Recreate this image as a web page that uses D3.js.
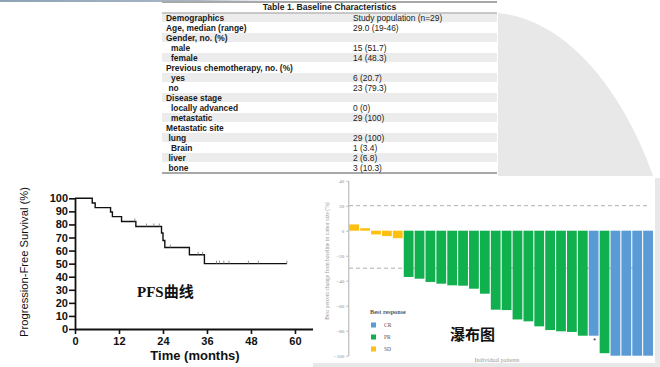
<!DOCTYPE html>
<html><head><meta charset="utf-8">
<script src="https://cdn.jsdelivr.net/npm/d3@7/dist/d3.min.js"></script>
<style>
html,body{margin:0;padding:0;background:#fff;}
svg{display:block;}
</style></head>
<body>
<svg id="c" width="660" height="367"></svg>
<script>
// ---------- DATA ----------
const tableTitle = "Table 1. Baseline Characteristics";
const tableLabels = ["Demographics","Age, median (range)","Gender, no. (%)","male","female","Previous chemotherapy, no. (%)","yes","no","Disease stage","locally advanced","metastatic","Metastatic site","lung","Brain","liver","bone"];
const tableValues = ["Study population (n=29)","29.0 (19-46)","","15 (51.7)","14 (48.3)","","6 (20.7)","23 (79.3)","","0 (0)","29 (100)","","29 (100)","1 (3.4)","2 (6.8)","3 (10.3)"];
const tableIndent = [0,0,0,2,2,0,2,1,0,2,2,0,1,2,1,1];

const kmTimes = [0, 4.7, 5.5, 9.7, 10.2, 12.7, 16.6, 23.6, 24.0, 24.5, 31.2, 35.3, 57.8];
const kmSurv  = [100, 96.4, 92.9, 89.5, 86.0, 82.3, 78.4, 73.5, 67.7, 62.3, 56.8, 50.0, 50.0];
const kmCensor = [16.3, 19.5, 21.5, 23.0, 26.0, 33.6, 34.8, 38.6, 39.4, 40.6, 42.0, 47.3, 50.0, 57.8];
const kmXTicks = [0, 12, 24, 36, 48, 60];
const kmYTicks = [0,10,20,30,40,50,60,70,80,90,100];

const wfValues = [5, 2, -3, -4.3, -6, -37, -38.4, -41, -42.4, -43.7, -44, -46.4, -50.4, -63.2, -63.5, -71, -72.5, -76.5, -79.5, -80.5, -81, -84, -84, -98, -100, -100, -100, -100];
const wfResponse = ["SD","SD","SD","SD","SD","PR","PR","PR","PR","PR","PR","PR","PR","PR","PR","PR","PR","PR","PR","PR","PR","PR","CR","PR","CR","CR","CR","CR"];
const wfStarIndex = [22];
const wfYTicks = [40, 20, 0, -20, -40, -60, -80, -100];
const wfRefLines = [20, -30];
const legendKeys = ["CR","PR","SD"];
const legendColors = ["#5b9bd5","#11b04f","#fdc010"];

// ---------- SETUP ----------
const svg = d3.select("#c");
const defs = svg.append("defs");
const grad = defs.append("linearGradient").attr("id","topg").attr("x1","0").attr("x2","1").attr("y1","0").attr("y2","0");
grad.append("stop").attr("offset","0").attr("stop-color","#8ea1b6");
grad.append("stop").attr("offset","0.6").attr("stop-color","#a9b8c8");
grad.append("stop").attr("offset","1").attr("stop-color","#ffffff").attr("stop-opacity","0");
svg.append("rect").attr("x",0).attr("y",0).attr("width",330).attr("height",2).attr("fill","url(#topg)");

// gray decorative shape
svg.append("path")
  .attr("d","M498,13 C570,20 625,95 654,178 L660,178 L660,367 L313,367 L313,363 L655,363 L655,184 L455,184 L470,176 L498,176 Z")
  .attr("fill","#e8e8e8");

// ---------- TABLE ----------
const tX0 = 162, tX1 = 497;
const tbl = svg.append("g");
const rowY = d3.scaleLinear().domain([0, 15]).range([17.5, 167.5]);
tbl.selectAll("rect.stripe").data(tableLabels).join("rect")
  .attr("class","stripe")
  .attr("x", tX0).attr("width", tX1 - tX0)
  .attr("y", (d,i) => rowY(i) - 4.5).attr("height", 9)
  .attr("fill", (d,i) => i % 2 === 0 ? "#ececec" : "none");
tbl.append("line").attr("x1",tX0).attr("x2",tX1).attr("y1",2).attr("y2",2).attr("stroke","#a8a8a8").attr("stroke-width",2);
tbl.append("line").attr("x1",tX0).attr("x2",tX1).attr("y1",13).attr("y2",13).attr("stroke","#b8b8b8").attr("stroke-width",1.3);
tbl.append("line").attr("x1",tX0).attr("x2",tX1).attr("y1",173).attr("y2",173).attr("stroke","#a8a8a8").attr("stroke-width",2);
tbl.append("text").attr("x",(tX0+tX1)/2).attr("y",10).attr("text-anchor","middle")
  .attr("font-family","Liberation Sans, Arial, sans-serif").attr("font-weight","bold").attr("font-size",8.6).attr("fill","#1a1a1a")
  .text(tableTitle);
tbl.selectAll("text.lab").data(tableLabels).join("text").attr("class","lab")
  .attr("x",(d,i) => 166 + tableIndent[i]*2.5).attr("y",(d,i) => rowY(i) + 3.1)
  .attr("font-family","Liberation Sans, Arial, sans-serif").attr("font-weight","bold").attr("font-size",8.4).attr("fill","#1a1a1a")
  .text(d => d);
tbl.selectAll("text.val").data(tableValues).join("text").attr("class","val")
  .attr("x",353).attr("y",(d,i) => rowY(i) + 3.1)
  .attr("font-family","Liberation Sans, Arial, sans-serif").attr("font-size",8.4).attr("fill","#1a1a1a")
  .text(d => d);

// ---------- KM PLOT ----------
const kx = d3.scaleLinear().domain([0, 65]).range([75, 313.3]);
const ky = d3.scaleLinear().domain([0, 100]).range([329, 198.3]);
const km = svg.append("g");

const yAx = km.append("g").attr("transform","translate(75,0)")
  .call(d3.axisLeft(ky).tickValues(kmYTicks).tickSize(6).tickSizeOuter(0).tickPadding(1));
const xAx = km.append("g").attr("transform","translate(0,329)")
  .call(d3.axisBottom(kx).tickValues(kmXTicks).tickSize(5).tickSizeOuter(0).tickPadding(3));
[yAx, xAx].forEach(a => {
  a.selectAll("path.domain").attr("stroke","#111").attr("stroke-width",1.8);
  a.selectAll(".tick line").attr("stroke","#111").attr("stroke-width",1.6);
  a.selectAll(".tick text").attr("font-family","Liberation Sans, Arial, sans-serif")
    .attr("font-weight","bold").attr("font-size",11).attr("fill","#111");
});

const kmData = kmTimes.map((t,i) => ({t, s: kmSurv[i]}));
km.append("path").datum(kmData)
  .attr("d", d3.line().x(d => kx(d.t)).y(d => ky(d.s)).curve(d3.curveStepAfter))
  .attr("fill","none").attr("stroke","#111").attr("stroke-width",1.4);
const bis = d3.bisector(d => d.t).right;
km.selectAll("line.cens").data(kmCensor).join("line").attr("class","cens")
  .attr("x1", d => kx(d)).attr("x2", d => kx(d))
  .attr("y1", d => ky(kmData[bis(kmData, d) - 1].s))
  .attr("y2", d => ky(kmData[bis(kmData, d) - 1].s) - 3)
  .attr("stroke","#777").attr("stroke-width",0.8);

km.append("text").attr("transform","translate(24,262) rotate(-90)").attr("text-anchor","middle")
  .attr("dominant-baseline","central")
  .attr("font-family","Liberation Sans, Arial, sans-serif").attr("font-size",11.2).attr("fill","#111")
  .text("Progression-Free Survival (%)");
km.append("text").attr("x",195).attr("y",360).attr("text-anchor","middle")
  .attr("font-family","Liberation Sans, Arial, sans-serif").attr("font-weight","bold").attr("font-size",13).attr("fill","#111")
  .text("Time (months)");
km.append("text").attr("x",137).attr("y",297)
  .attr("font-family","Liberation Serif, 'Noto Sans CJK SC', serif").attr("font-weight","bold").attr("font-size",15).attr("fill","#111")
  .text("PFS曲线");

// ---------- WATERFALL ----------
const wf = svg.append("g");
wf.append("rect").attr("x",313).attr("y",176).attr("width",342).attr("height",187).attr("fill","#fff");
const wy = d3.scaleLinear().domain([-100, 40]).range([355.7, 180.7]);
const wx = d3.scaleBand().domain(d3.range(wfValues.length)).range([349, 653.3]).paddingInner(0.1).paddingOuter(0.03);
const colorOf = d3.scaleOrdinal().domain(legendKeys).range(legendColors);

wf.selectAll("line.ref").data(wfRefLines).join("line").attr("class","ref")
  .attr("x1",349).attr("x2",648).attr("y1", d => wy(d)).attr("y2", d => wy(d))
  .attr("stroke","#9a9a9a").attr("stroke-width",0.8).attr("stroke-dasharray","4,3");

wf.selectAll("rect.bar").data(wfValues).join("rect").attr("class","bar")
  .attr("x",(d,i) => wx(i)).attr("width", wx.bandwidth())
  .attr("y", d => wy(Math.max(0,d))).attr("height", d => Math.abs(wy(d) - wy(0)))
  .attr("fill",(d,i) => colorOf(wfResponse[i]));

wf.selectAll("text.star").data(wfStarIndex).join("text").attr("class","star")
  .attr("x", i => wx(i) + wx.bandwidth()/2 + 1).attr("y", i => wy(wfValues[i]) + 7)
  .attr("text-anchor","middle").attr("font-size",7).attr("font-family","Liberation Sans, sans-serif").attr("fill","#111")
  .text("*");

const wAx = wf.append("g").attr("transform","translate(348.3,0)")
  .call(d3.axisLeft(wy).tickValues(wfYTicks).tickSize(2).tickSizeOuter(0).tickPadding(2));
wAx.selectAll("path.domain").attr("stroke","#9a9a9a").attr("stroke-width",0.8);
wAx.selectAll(".tick line").attr("stroke","#9a9a9a").attr("stroke-width",0.7);
wAx.selectAll(".tick text").attr("font-family","Liberation Serif, serif").attr("font-size",5).attr("fill","#888");

wf.append("text").attr("transform","translate(327,261) rotate(-90)").attr("text-anchor","middle")
  .attr("dominant-baseline","central")
  .attr("font-family","Liberation Serif, serif").attr("font-size",5.6).attr("fill","#999")
  .text("Best percent change from baseline in tumor size (%)");
wf.append("text").attr("x",497).attr("y",362).attr("text-anchor","middle")
  .attr("font-family","Liberation Serif, serif").attr("font-size",6).attr("fill","#999")
  .text("Individual patients");

// legend
wf.append("text").attr("x",370).attr("y",314).attr("font-family","Liberation Serif, serif").attr("font-weight","bold")
  .attr("font-size",6.2).attr("fill","#555").text("Best response");
const lg = wf.selectAll("g.lg").data(legendKeys).join("g").attr("class","lg")
  .attr("transform",(d,i) => `translate(371,${325 + i*12})`);
lg.append("rect").attr("x",0).attr("y",-2.5).attr("width",5).attr("height",5).attr("fill", d => colorOf(d));
lg.append("text").attr("x",13).attr("y",2).attr("font-family","Liberation Serif, serif").attr("font-size",5.5).attr("fill","#555").text(d => d);

wf.append("text").attr("x",450).attr("y",340)
  .attr("font-family","'Noto Sans CJK SC', sans-serif").attr("font-weight","bold").attr("font-size",15).attr("fill","#111")
  .text("瀑布图");
</script>
</body></html>
